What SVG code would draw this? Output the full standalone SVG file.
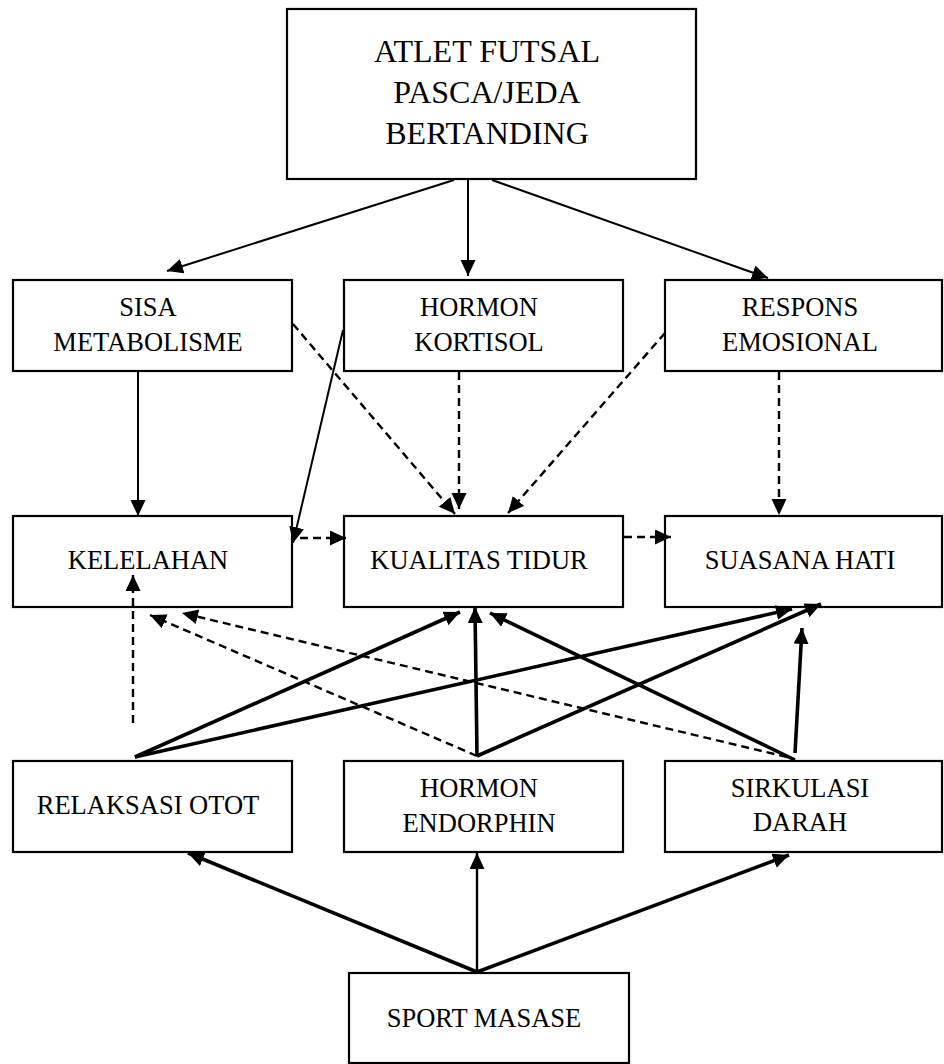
<svg xmlns="http://www.w3.org/2000/svg" width="944" height="1064" viewBox="0 0 944 1064">
<style>
.box{fill:#fff;stroke:#000;stroke-width:2.2}
text{font-family:'Liberation Serif','Times New Roman','DejaVu Serif',serif;font-size:26.5px;fill:#000;text-anchor:middle}
.tt{font-size:32px}
.c{fill:none;stroke:#000}
.thin{stroke-width:2}
.med{stroke-width:2.4}
.thick{stroke-width:3.6}
.dash{stroke-width:2.4;stroke-dasharray:8 5}
</style>
<defs>
<marker id="ah" markerUnits="userSpaceOnUse" markerWidth="17" markerHeight="16" refX="16" refY="7.5" orient="auto">
<path d="M0,0 L16,7.5 L0,15 z" fill="#000"/>
</marker>
</defs>
<rect width="944" height="1064" fill="#fff"/>
<g id="atlet">
<rect class="box" x="287" y="9" width="409" height="170"/>
<text class="tt" x="487" y="62">ATLET FUTSAL</text>
<text class="tt" x="487" y="103">PASCA/JEDA</text>
<text class="tt" x="487" y="144">BERTANDING</text>
</g>
<g id="sisa">
<rect class="box" x="13" y="280" width="279" height="91"/>
<text x="148" y="316">SISA</text>
<text x="148" y="351">METABOLISME</text>
</g>
<g id="kortisol">
<rect class="box" x="344" y="280" width="279" height="91"/>
<text x="479" y="316">HORMON</text>
<text x="479" y="351">KORTISOL</text>
</g>
<g id="respons">
<rect class="box" x="665" y="280" width="277" height="91"/>
<text x="800" y="316">RESPONS</text>
<text x="800" y="351">EMOSIONAL</text>
</g>
<g id="kelelahan">
<rect class="box" x="13" y="516" width="279" height="91"/>
<text x="148" y="569">KELELAHAN</text>
</g>
<g id="kualitas">
<rect class="box" x="344" y="516" width="279" height="91"/>
<text x="479" y="569">KUALITAS TIDUR</text>
</g>
<g id="suasana">
<rect class="box" x="665" y="516" width="277" height="91"/>
<text x="800" y="569">SUASANA HATI</text>
</g>
<g id="relaksasi">
<rect class="box" x="13" y="761" width="279" height="91"/>
<text x="148" y="814">RELAKSASI OTOT</text>
</g>
<g id="endorphin">
<rect class="box" x="344" y="761" width="279" height="91"/>
<text x="479" y="797">HORMON</text>
<text x="479" y="832">ENDORPHIN</text>
</g>
<g id="sirkulasi">
<rect class="box" x="665" y="761" width="277" height="91"/>
<text x="800" y="797">SIRKULASI</text>
<text x="800" y="831">DARAH</text>
</g>
<g id="sport">
<rect class="box" x="349" y="973" width="280" height="90"/>
<text x="484" y="1027">SPORT MASASE</text>
</g>
<g id="connectors">
<line class="c thin" x1="454" y1="180" x2="167" y2="271" marker-end="url(#ah)"/>
<line class="c thin" x1="468" y1="180" x2="468" y2="276" marker-end="url(#ah)"/>
<line class="c thin" x1="492" y1="180" x2="768" y2="278" marker-end="url(#ah)"/>
<line class="c thin" x1="138" y1="372" x2="138" y2="516" marker-end="url(#ah)"/>
<line class="c thin" x1="343" y1="330" x2="293" y2="543" marker-end="url(#ah)"/>
<line class="c dash" x1="293" y1="324" x2="455" y2="514" marker-end="url(#ah)"/>
<line class="c dash" x1="459" y1="372" x2="459" y2="509" marker-end="url(#ah)"/>
<line class="c dash" x1="665" y1="333" x2="508" y2="513" marker-end="url(#ah)"/>
<line class="c dash" x1="779" y1="372" x2="779" y2="515" marker-end="url(#ah)"/>
<line class="c dash" x1="300" y1="538" x2="346" y2="538" marker-end="url(#ah)"/>
<line class="c dash" x1="624" y1="537" x2="671" y2="537" marker-end="url(#ah)"/>
<line class="c dash" x1="133" y1="723" x2="133" y2="575" marker-end="url(#ah)"/>
<line class="c dash" x1="787" y1="757" x2="182" y2="613" marker-end="url(#ah)"/>
<line class="c dash" x1="477" y1="756" x2="150" y2="615" marker-end="url(#ah)"/>
<line class="c thick" x1="135" y1="757" x2="460" y2="612" marker-end="url(#ah)"/>
<line class="c thick" x1="135" y1="757" x2="792" y2="609" marker-end="url(#ah)"/>
<line class="c thick" x1="477" y1="756" x2="475" y2="607" marker-end="url(#ah)"/>
<line class="c thick" x1="477" y1="756" x2="821" y2="604" marker-end="url(#ah)"/>
<line class="c thick" x1="795" y1="760" x2="490" y2="613" marker-end="url(#ah)"/>
<line class="c thick" x1="795" y1="753" x2="802" y2="628" marker-end="url(#ah)"/>
<line class="c thick" x1="477" y1="972" x2="188" y2="853" marker-end="url(#ah)"/>
<line class="c med" x1="477" y1="972" x2="477" y2="853" marker-end="url(#ah)"/>
<line class="c thick" x1="477" y1="972" x2="789" y2="855" marker-end="url(#ah)"/>
</g>
</svg>
